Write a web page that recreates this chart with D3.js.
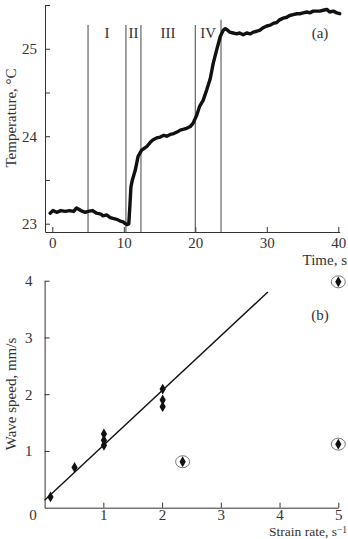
<!DOCTYPE html>
<html>
<head>
<meta charset="utf-8">
<script src="https://cdn.jsdelivr.net/npm/d3@7"></script>
<style>
  body { margin: 0; background: #fff; }
  svg { display: block; }
  .tick text, .lbl { font-family: "Liberation Serif", "DejaVu Serif", serif; fill: #333; }
  .domain, .tick line { stroke: #333; }
</style>
</head>
<body>
<div id="chart"></div>
<script>
// ---- panel (a): temperature vs time ----
const timeS = [-0.3, 0.1, 0.6, 1.2, 1.8, 2.4, 3.0, 3.4, 4.0, 4.6, 5.0, 5.6, 6.2, 6.8, 7.1, 7.6, 8.1, 8.5, 9.0, 9.5, 9.9, 10.2, 10.5, 10.7,
  10.85, 11.0, 11.2, 11.6, 12.0, 12.5, 13.2, 13.7, 14.1, 14.6, 15.1, 15.6, 16.0, 16.5, 17.0, 17.5, 17.9, 18.4, 18.8, 19.3, 19.7,
  20.2, 20.6, 21.1, 21.6, 22.1, 22.5, 23.0, 23.5, 23.9, 24.2, 24.4, 24.8, 25.3, 25.8, 26.2, 26.7, 27.2, 27.7, 28.1, 28.6, 29.0,
  29.5, 30.0, 30.5, 30.9, 31.4, 31.8, 32.3, 32.8, 33.2, 33.7, 34.2, 34.6, 35.1, 35.6, 36.0, 36.5, 37.0, 37.4, 37.9, 38.4, 38.8,
  39.3, 39.8, 40.2];
const tempC = [23.12, 23.15, 23.13, 23.15, 23.14, 23.15, 23.14, 23.18, 23.15, 23.13, 23.14, 23.15, 23.12, 23.11, 23.09, 23.10, 23.07, 23.06, 23.05, 23.03, 23.02, 23.00, 22.99, 23.00,
  23.20, 23.42, 23.50, 23.61, 23.77, 23.84, 23.88, 23.93, 23.96, 23.98, 23.99, 24.01, 24.00, 24.02, 24.03, 24.05, 24.07, 24.08, 24.09, 24.11, 24.15,
  24.24, 24.34, 24.41, 24.53, 24.66, 24.83, 24.99, 25.14, 25.21, 25.23, 25.22, 25.19, 25.18, 25.17, 25.18, 25.16, 25.18, 25.17, 25.19, 25.20, 25.21,
  25.24, 25.26, 25.27, 25.29, 25.30, 25.33, 25.35, 25.36, 25.38, 25.39, 25.40, 25.40, 25.41, 25.42, 25.41, 25.43, 25.43, 25.43, 25.44, 25.45, 25.42,
  25.43, 25.41, 25.40];
const phaseBounds = [5, 10.3, 12.4, 20, 23.6];
const phaseNames = ["I", "II", "III", "IV"];
const timeTicks = [0, 10, 20, 30, 40];
const tempTicks = [23, 24, 25];
const tempMinorTicks = [23.5, 24.5, 25.5];

// ---- panel (b): wave speed vs strain rate ----
const strainRate = [0.1, 0.51, 1.01, 1.01, 1.01, 2.01, 2.01, 2.01, 2.35, 5.0, 5.0];
const waveSpeed = [0.19, 0.71, 1.30, 1.19, 1.10, 2.09, 1.90, 1.78, 0.81, 3.98, 1.12];
const circled = [false, false, false, false, false, false, false, false, true, true, true];
const fitX = [0, 3.8];
const fitY = [0.13, 3.8];
const rateTicks = [1, 2, 3, 4, 5];
const speedTicks = [1, 2, 3, 4];

const W = 348, H = 539;
const svg = d3.select("#chart").append("svg").attr("width", W).attr("height", H);
const fmt = d3.format("d");

// panel (a)
const xA = d3.scaleLinear().domain([-1.02, 40.2]).range([45, 339.7]);
const yA = d3.scaleLinear().domain([22.905, 25.5]).range([232, 5]);

svg.append("g")
    .attr("transform", "translate(0," + yA.range()[0] + ")")
    .call(d3.axisBottom(xA).tickValues(timeTicks).tickFormat(fmt).tickSizeInner(-5).tickSizeOuter(0).tickPadding(5))
    .call(g => g.selectAll("text").attr("font-size", 15).attr("dy", "0.71em"));

svg.append("g")
    .attr("transform", "translate(" + xA.range()[0] + ",0)")
    .call(d3.axisLeft(yA).tickValues(tempTicks).tickFormat(fmt).tickSizeInner(-5).tickSizeOuter(0).tickPadding(8))
    .call(g => g.selectAll("text").attr("font-size", 15));

svg.append("g")
    .attr("transform", "translate(" + xA.range()[0] + ",0)")
    .call(d3.axisLeft(yA).tickValues(tempMinorTicks).tickFormat("").tickSizeInner(-5).tickSizeOuter(0))
    .call(g => g.select(".domain").remove());

// phase separators
svg.append("g").selectAll("line")
    .data(phaseBounds)
    .join("line")
    .attr("x1", d => xA(d)).attr("x2", d => xA(d))
    .attr("y1", (d, i) => yA(i === phaseBounds.length - 1 ? 25.33 : 25.27))
    .attr("y2", yA.range()[0])
    .attr("stroke", "#555").attr("stroke-width", 1.1);

svg.append("g").selectAll("text")
    .data(phaseNames)
    .join("text")
    .attr("class", "lbl")
    .attr("x", (d, i) => xA((phaseBounds[i] + phaseBounds[i + 1]) / 2))
    .attr("y", 38)
    .attr("text-anchor", "middle")
    .attr("font-size", 15)
    .text(d => d);

const lineA = d3.line().x((d, i) => xA(timeS[i])).y(d => yA(d));
svg.append("path")
    .attr("d", lineA(tempC))
    .attr("fill", "none")
    .attr("stroke", "#111")
    .attr("stroke-width", 3.4)
    .attr("stroke-linejoin", "round")
    .attr("stroke-linecap", "round");

svg.append("text").attr("class", "lbl")
    .attr("x", 320).attr("y", 38).attr("text-anchor", "middle").attr("font-size", 15)
    .text("(a)");
svg.append("text").attr("class", "lbl")
    .attr("x", 347).attr("y", 265).attr("text-anchor", "end").attr("font-size", 15)
    .text("Time, s");
svg.append("text").attr("class", "lbl")
    .attr("transform", "translate(16,118) rotate(-90)")
    .attr("text-anchor", "middle").attr("font-size", 15)
    .text("Temperature, °C");

// panel (b)
const xB = d3.scaleLinear().domain([0, 5]).range([44.6, 338.3]);
const yB = d3.scaleLinear().domain([0, 4]).range([507.7, 280.7]);

svg.append("g")
    .attr("transform", "translate(0," + yB(0) + ")")
    .call(d3.axisBottom(xB).tickValues(rateTicks).tickFormat(fmt).tickSizeInner(-5).tickSizeOuter(0).tickPadding(2))
    .call(g => g.selectAll("text").attr("font-size", 15).attr("dy", "0.71em"));

svg.append("g")
    .attr("transform", "translate(" + xB(0) + ",0)")
    .call(d3.axisLeft(yB).tickValues(speedTicks).tickFormat(fmt).tickSizeInner(-5).tickSizeOuter(0).tickPadding(12))
    .call(g => g.selectAll("text").attr("font-size", 15));

svg.append("text").attr("class", "lbl")
    .attr("x", 33).attr("y", 520).attr("text-anchor", "middle").attr("font-size", 15)
    .text("0");

const lineB = d3.line().x((d, i) => xB(fitX[i])).y(d => yB(d));
svg.append("path")
    .attr("d", lineB(fitY))
    .attr("fill", "none")
    .attr("stroke", "#111")
    .attr("stroke-width", 1.4);

svg.append("g").selectAll("ellipse")
    .data(strainRate.map((d, i) => [d, waveSpeed[i]]).filter((d, i) => circled[i]))
    .join("ellipse")
    .attr("cx", d => xB(d[0]))
    .attr("cy", d => yB(d[1]))
    .attr("rx", 7).attr("ry", 6)
    .attr("fill", "none").attr("stroke", "#777").attr("stroke-width", 1);

const diamond = d3.symbol().type(d3.symbolDiamond).size(34);
svg.append("g").selectAll("path")
    .data(waveSpeed)
    .join("path")
    .attr("d", diamond)
    .attr("transform", (d, i) => "translate(" + xB(strainRate[i]) + "," + yB(d) + ")")
    .attr("fill", "#111");

svg.append("text").attr("class", "lbl")
    .attr("x", 320).attr("y", 320).attr("text-anchor", "middle").attr("font-size", 15)
    .text("(b)");
svg.append("text").attr("class", "lbl")
    .attr("transform", "translate(16,394) rotate(-90)")
    .attr("text-anchor", "middle").attr("font-size", 15)
    .text("Wave speed, mm/s");
const sl = svg.append("text").attr("class", "lbl")
    .attr("x", 347).attr("y", 536).attr("text-anchor", "end").attr("font-size", 13.5);
sl.append("tspan").text("Strain rate, s");
sl.append("tspan").attr("dy", -3.5).attr("font-size", 9.5).text("−1");
</script>
</body>
</html>
